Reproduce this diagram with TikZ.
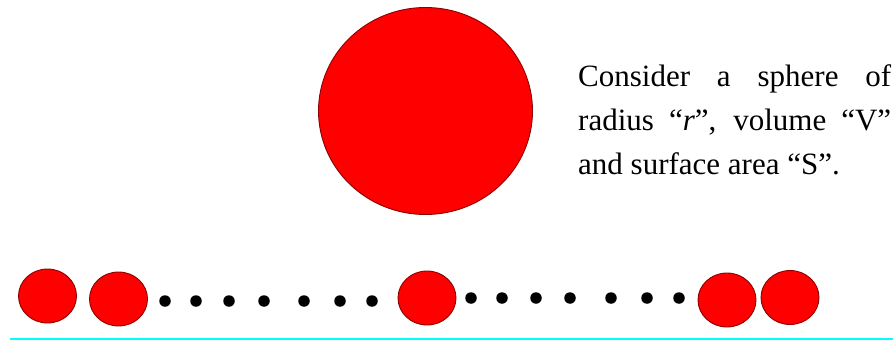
\documentclass[tikz,border=0pt]{standalone}
\usepackage{fontspec}
\setmainfont{Liberation Serif}
\usetikzlibrary{positioning, shapes.geometric}
\definecolor{linecyan}{RGB}{0,255,255}

\begin{document}
\begin{tikzpicture}[
          x=1pt, y=-1pt,
          ball/.style={ellipse, draw=red!55!black, line width=0.9pt, fill=red, inner sep=0pt, outer sep=0pt},
          small/.style={ball, minimum width=58pt, minimum height=54pt},
          dot/.style={circle, fill=black, inner sep=0pt, minimum size=11.5pt},
          caption/.style={anchor=north west, inner sep=0pt, text width=313pt, align=justify}
      ]
      \useasboundingbox (0,0) rectangle (893,342);

      \node[ball, minimum width=214pt, minimum height=207pt] (big) at (425.5,111) {};

      \node[caption] (text) at (578,64)
          {\fontsize{31}{44}\selectfont\hyphenpenalty=10000
           Consider a sphere of\linebreak
           radius “\textit{r}”, volume “V”\linebreak
           and surface area “S”.\par};

      \node[small] (s1) at (47.5,296) {};
      \node[small] (s2) at (118.5,299) {};
      \node[small] (sm) at (427,298) {};
      \node[small] (s3) at (727,300) {};
      \node[small] (s4) at (790,297.5) {};

      \foreach \x [count=\i] in {165,196,229,264,304,340,372} {
          \node[dot] (a\i) at (\x,301) {};
      }
      \foreach \x [count=\i] in {471,502,536,570,611,647,679} {
          \node[dot] (b\i) at (\x,298) {};
      }

      \coordinate (lineL) at (10,339);
      \coordinate (lineR) at (893,339);
      \draw[linecyan, line width=2pt] (lineL) -- (lineR);

\end{tikzpicture}
\end{document}
